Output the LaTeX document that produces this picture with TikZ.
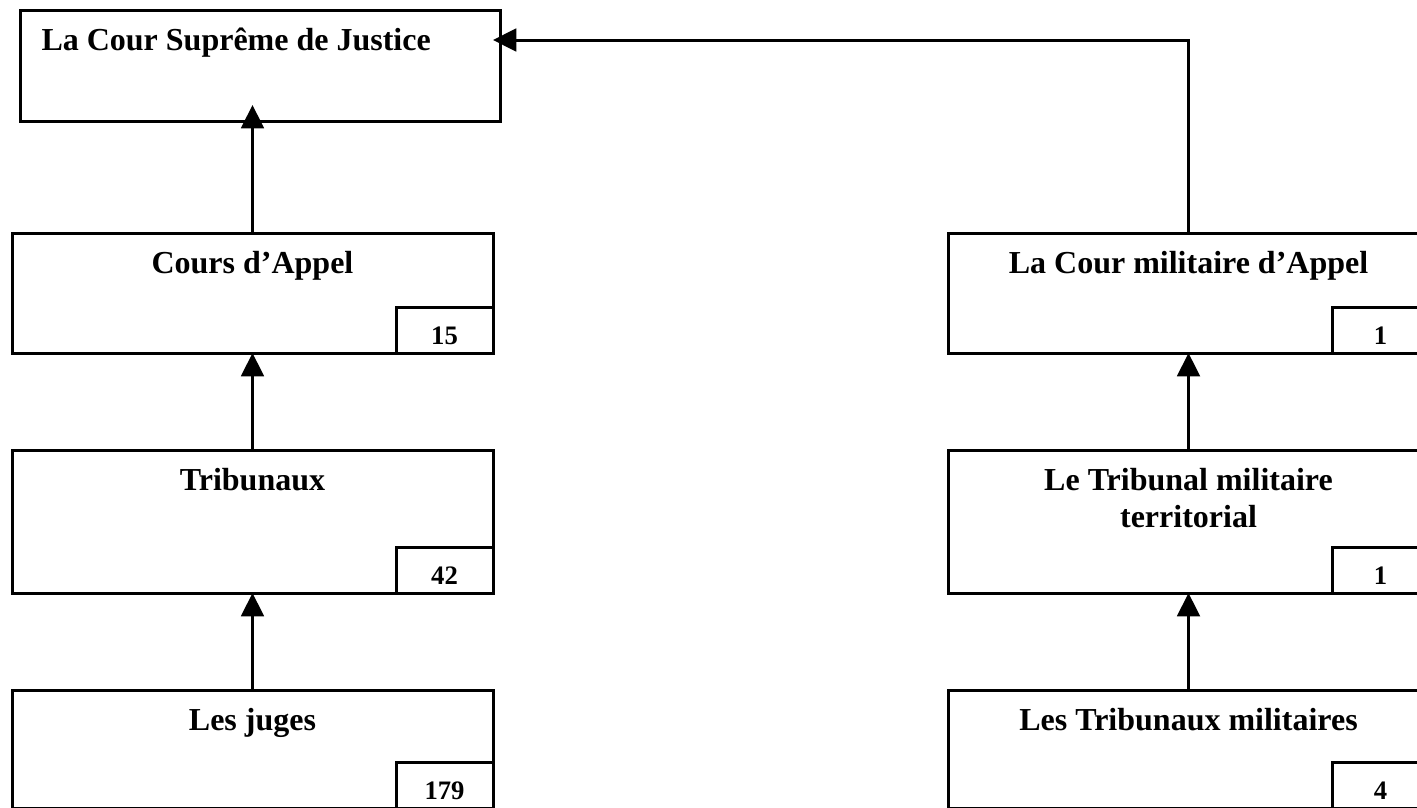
\documentclass[tikz,border=0pt]{standalone}
\usepackage{fontspec}
\setmainfont{Liberation Serif}
\usetikzlibrary{arrows.meta,calc}

\tikzset{every picture/.style={line width=2.25pt}}
\tikzset{
  courbox/.style={draw, rectangle, inner sep=0pt, outer sep=0pt, anchor=north west, minimum width=360.75pt},
  nbbox/.style={draw, rectangle, inner sep=0pt, outer sep=0pt, anchor=south east, minimum width=72.75pt, minimum height=34.5pt, text height=21pt, text depth=0pt, font=\fontsize{20}{24}\selectfont\bfseries},
  titre/.style={anchor=base, inner sep=0pt, align=center, font=\fontsize{24}{27.75}\selectfont\bfseries},
  fleche/.style={-{Triangle[length=17.5pt,width=17pt]}},
}

\begin{document}
\begin{tikzpicture}[x=0.75pt,y=0.75pt,yscale=-1]
\useasboundingbox (0,0) rectangle (1417,807);
\clip (0,0) rectangle (1417,807);

%Shape: Rectangle (cour supreme)
\node[courbox, minimum width=360pt, minimum height=83.25pt] (supreme) at (20,10) {};
% Text Node
\node[titre, anchor=base west] (supremeT) at ($(supreme.north west)+(20,40)$) {La Cour Suprême de Justice};

%Shapes: left column
\node[courbox, minimum height=90pt] (appel) at (12,233) {};
\node[nbbox] (appelN) at (appel.south east) {15};
\node[titre] (appelT) at ($(appel.north)+(0,40)$) {Cours d’Appel};

\node[courbox, minimum height=107.25pt] (trib) at (12,450) {};
\node[nbbox] (tribN) at (trib.south east) {42};
\node[titre] (tribT) at ($(trib.north)+(0,40)$) {Tribunaux};

\node[courbox, minimum height=88.5pt] (juges) at (12,690) {};
\node[nbbox] (jugesN) at (juges.south east) {179};
\node[titre] (jugesT) at ($(juges.north)+(0,40)$) {Les juges};

%Shapes: right column
\node[courbox, minimum height=90pt] (milappel) at (948,233) {};
\node[nbbox] (milappelN) at (milappel.south east) {1};
\node[titre] (milappelT) at ($(milappel.north)+(0,40)$) {La Cour militaire d’Appel};

\node[courbox, minimum height=107.25pt] (milterr) at (948,450) {};
\node[nbbox] (milterrN) at (milterr.south east) {1};
% two lines: base is on the last line
\node[titre] (milterrT) at ($(milterr.north)+(0,77)$) {Le Tribunal militaire\\territorial};

\node[courbox, minimum height=88.5pt] (miltrib) at (948,690) {};
\node[nbbox] (miltribN) at (miltrib.south east) {4};
\node[titre] (miltribT) at ($(miltrib.north)+(0,40)$) {Les Tribunaux militaires};

%Straight Lines
\coordinate (supremeIn) at ($(supreme.north east)+(0,30)$);
\draw[fleche, shorten >=-12pt] (appel.north) -- (appel.north |- supreme.south);
\draw[fleche] (trib.north) -- (appel.south);
\draw[fleche] (juges.north) -- (trib.south);
\draw[fleche] (milterr.north) -- (milappel.south);
\draw[fleche] (miltrib.north) -- (milterr.south);
\draw[fleche, shorten >=-5.25pt] (milappel.north) |- (supremeIn);

\end{tikzpicture}
\end{document}
